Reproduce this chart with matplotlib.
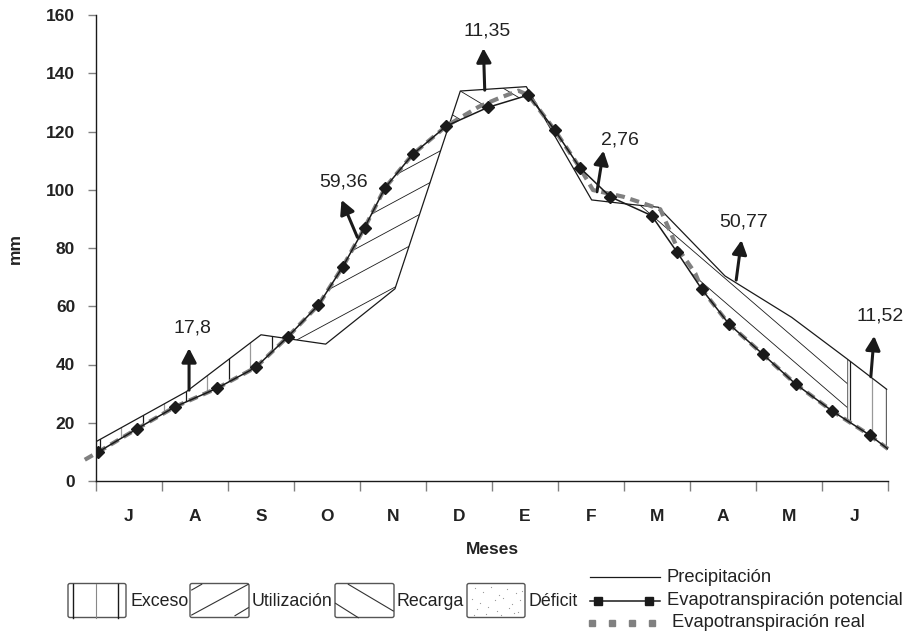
import numpy as np
import matplotlib
matplotlib.use('Agg')
import matplotlib.pyplot as plt
from matplotlib.patches import FancyBboxPatch

plt.rcParams['font.family'] = ['Liberation Sans', 'DejaVu Sans']

meses = ['J', 'A', 'S', 'O', 'N', 'D', 'E', 'F', 'M', 'A', 'M', 'J']
yticks = [0, 20, 40, 60, 80, 100, 120, 140, 160]

# precipitacion (x en meses desde inicio de julio, mm)
prec_x = [0.0, 1.37, 2.50, 3.48, 4.53, 5.52, 6.52, 7.51, 8.09, 8.52, 9.53, 10.54, 11.37, 11.98]
prec_y = [13.5, 30.7, 50.2, 47.0, 66.0, 133.9, 135.4, 96.5, 95.0, 94.0, 70.4, 56.2, 42.1, 31.5]

# evapotranspiracion potencial (puntos con marcador + final de linea)
etp_x = [0.03, 0.62, 1.20, 1.83, 2.42, 2.91, 3.37, 3.74, 4.07, 4.38, 4.80, 5.31, 5.94,
         6.55, 6.95, 7.33, 7.79, 8.42, 8.80, 9.18, 9.59, 10.10, 10.60, 11.15, 11.72, 12.0]
etp_y = [9.9, 17.9, 25.5, 31.8, 39.0, 49.6, 60.4, 73.6, 87.0, 100.7, 112.2, 121.9, 128.3,
         132.5, 120.5, 107.6, 97.6, 91.1, 78.7, 65.8, 53.9, 43.6, 33.3, 24.1, 15.8, 11.0]

# evapotranspiracion real
etr_x = [-0.17, 0.03, 0.62, 1.20, 1.83, 2.42, 2.91, 3.37, 3.74, 4.07, 4.38, 4.80, 5.31,
         5.80, 6.10, 6.40, 6.55, 6.95, 7.33, 7.53, 7.99, 8.27, 8.55, 8.80, 9.08, 9.18,
         9.59, 10.10, 10.60, 11.15, 11.72, 12.0]
etr_y = [7.3, 9.9, 17.9, 25.5, 31.8, 39.0, 49.6, 60.4, 73.6, 87.0, 100.7, 112.2, 121.9,
         128.5, 131.4, 134.0, 132.5, 120.5, 107.6, 99.9, 97.6, 95.5, 93.3, 80.4, 71.3, 65.8,
         53.9, 43.6, 33.3, 24.1, 15.8, 11.0]

# flechas con valores
fl_txt = ['17,8', '59,36', '11,35', '2,76', '50,77', '11,52']
fl_base = [(1.41, 31.2), (3.96, 83.7), (5.89, 134.2), (7.59, 99.3), (9.70, 69.0), (11.74, 35.8)]
fl_punta = [(1.41, 45.6), (3.72, 96.5), (5.87, 148.6), (7.69, 113.4), (9.78, 82.7), (11.79, 49.8)]
fl_pos = [(1.46, 52.5), (3.75, 102.6), (5.92, 154.6), (7.94, 117.0), (9.81, 89.0), (11.88, 56.5)]

fig = plt.figure(figsize=(9.04, 6.35), dpi=100)
ax = fig.add_axes([96/904, 1-481/635, 792/904, 466/635])

negro = '#1a1a1a'
gris = '#808080'
texto = '#222222'

# zonas rayadas
xx = np.linspace(-0.2, 12.2, 2481)
p = np.interp(xx, prec_x, prec_y)
e = np.interp(xx, etp_x, etp_y)


def zona(cond):
    return ax.fill_between(xx, p, e, where=cond, interpolate=True,
                           facecolor='none', edgecolor='none')


def rayado(reg, segs, **kw):
    path = reg.get_paths()[0]
    for (x0, y0), (x1, y1) in segs:
        ln, = ax.plot([x0, x1], [y0, y1], **kw)
        ln.set_clip_path(path, ax.transData)


exc1 = zona((xx >= 0.03) & (xx <= 2.95) & (p >= e))
util = zona((xx >= 2.8) & (xx <= 5.5) & (e >= p))
rec1 = zona((xx >= 5.2) & (xx <= 6.7) & (p >= e))
rec2 = zona((xx >= 8.2) & (xx <= 11.38) & (p >= e))
exc2 = zona((xx >= 11.38) & (xx <= 11.98) & (p >= e))

# exceso: lineas verticales alternando negro / gris
vx = np.arange(0.06, 2.95, 0.325)
for i, x in enumerate(vx):
    rayado(exc1, [((x, 0), (x, 160))], color=negro if i % 2 == 0 else '#999999',
           lw=0.9, zorder=2)
for x, c in zip([11.385, 11.43, 11.76, 11.975], [negro, negro, '#999999', negro]):
    rayado(exc2, [((x, 0), (x, 160))], color=c, lw=0.9, zorder=2)

# utilizacion "/"
m = 12.2
segs = [((2.0, c - m*1.04), (6.0, c + m*2.96)) for c in [48.4, 59.8, 68.8, 77.8, 86.8, 95.8, 104.8]]
rayado(util, segs, color=negro, lw=0.6, zorder=2)

# recarga "\"
m = -13.6
segs = [((5.0, c - m*0.52), (7.0, c + m*1.48)) for c in [124.1, 133.9, 143.7]]
rayado(rec1, segs, color=negro, lw=0.6, zorder=2)
m = -19.5
segs = [((8.0, c - m*3.35), (11.6, c + m*0.25)) for c in [25.9, 34.1]]
rayado(rec2, segs, color=negro, lw=0.6, zorder=2)

# lineas
ax.plot(prec_x, prec_y, color=negro, lw=0.9, zorder=3)
ax.plot(etr_x, etr_y, color=gris, lw=3, linestyle=(0, (2.2, 1.4)), zorder=3, clip_on=False)
ax.plot(etp_x, etp_y, color=negro, lw=1.1, marker='D', markersize=6,
        markevery=list(range(len(etp_x) - 1)), zorder=4)

for t, b, pt, ps in zip(fl_txt, fl_base, fl_punta, fl_pos):
    ax.annotate('', xy=pt, xytext=b,
                arrowprops=dict(arrowstyle='-|>,head_width=0.22,head_length=0.42',
                                color=negro, lw=2.2, mutation_scale=20,
                                shrinkA=0, shrinkB=0), zorder=5)
    ax.text(ps[0], ps[1], t, fontsize=14, ha='center', va='center', color=texto)

ax.set_xlim(0, 12)
ax.set_ylim(0, 160)
ax.set_xticks(range(13))
ax.set_xticklabels([])
ax.set_xticks(np.arange(0.5, 12, 1), minor=True)
ax.set_xticklabels(meses, minor=True, fontweight='bold', fontsize=12.5, color=texto)
ax.set_yticks(yticks)
ax.set_yticklabels([str(v) for v in yticks], fontweight='bold', fontsize=12.5, color=texto)
ax.tick_params(axis='x', which='major', length=7, color=gris, width=1)
ax.tick_params(axis='x', which='minor', length=0, pad=20)
ax.tick_params(axis='y', length=6, color=gris, width=1, pad=9)
for s in ['top', 'right']:
    ax.spines[s].set_visible(False)
for s in ['left', 'bottom']:
    ax.spines[s].set_color(negro)
    ax.spines[s].set_linewidth(1)

fig.text(15/904, 1-248/635, 'mm', rotation=90, fontweight='bold', fontsize=12.5,
         ha='center', va='center', color=texto)
fig.text(492/904, 1-550/635, 'Meses', fontweight='bold', fontsize=12.5,
         ha='center', va='center', color=texto)

# leyenda dibujada en pixeles
lg = fig.add_axes([0, 0, 1, 1])
lg.set_xlim(0, 904)
lg.set_ylim(635, 0)
lg.axis('off')
lg.patch.set_alpha(0)

cajas = [(68, 126, 'Exceso', 131), (190, 249, 'Utilización', 252),
         (335, 394, 'Recarga', 397), (467, 525, 'Déficit', 529)]
y0, y1 = 583.5, 617.5
for a, b, lab, tx in cajas:
    lg.add_patch(FancyBboxPatch((a, y0), b - a, y1 - y0, boxstyle='round,pad=0,rounding_size=2',
                                facecolor='none', edgecolor='#555555', lw=1))
    lg.text(tx, 601, lab, fontsize=12.8, va='center', ha='left', color=texto)

lg.plot([73.3, 73.3], [y0, y1], color=negro, lw=1)
lg.plot([95.7, 95.7], [y0, y1], color='#888888', lw=0.8)
lg.plot([117.7, 117.7], [y0, y1], color=negro, lw=1)
for (xa, ya), (xb, yb) in [((191.7, 615), (248.3, 584.3)), ((191.7, 590), (201.7, 584.3)),
                           ((235, 615.7), (248.3, 607.7)), ((348.3, 584.3), (393.3, 611)),
                           ((335.5, 603.3), (358.3, 617.7))]:
    lg.plot([xa, xb], [ya, yb], color='#333333', lw=0.8)

# puntos del deficit
px = [475, 483, 491, 499, 507, 516, 472, 480, 495, 503, 512, 520, 477, 488, 497, 509, 518,
      474, 486, 501, 514, 522]
py = [588, 592, 587, 595, 589, 593, 599, 603, 600, 598, 604, 600, 609, 607, 611, 608, 612,
      615, 614, 615, 613, 591]
lg.scatter(px, py, s=0.8, color='#999999', lw=0)

lg.plot([590, 660], [577, 577], color=negro, lw=0.9)
lg.text(667, 577, 'Precipitación', fontsize=13.2, va='center', color=texto)
lg.plot([590, 660], [600.5, 600.5], color=negro, lw=1.1)
lg.plot([598, 649], [600.5, 600.5], 's', color=negro, markersize=5.5)
lg.text(667, 600.5, 'Evapotranspiración potencial', fontsize=13.2, va='center', color=texto)
lg.plot([592, 612, 632, 652], [622.5] * 4, 's', color=gris, markersize=4.5)
lg.text(672, 622.5, 'Evapotranspiración real', fontsize=13.2, va='center', color=texto)

fig.savefig('out.png', dpi=100)
